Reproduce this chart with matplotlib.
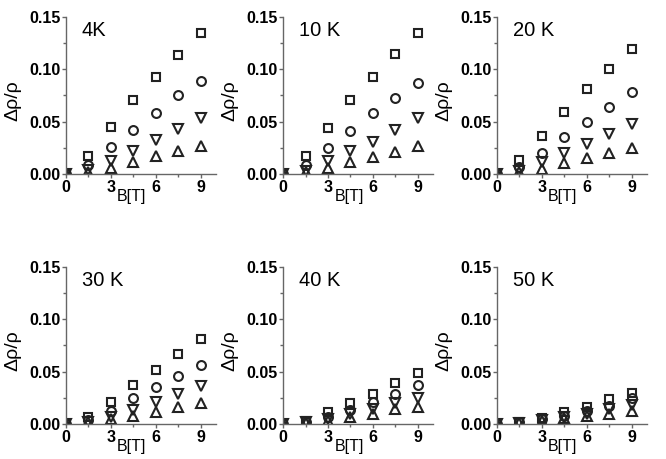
import matplotlib
matplotlib.use("Agg")
import matplotlib.pyplot as plt
from matplotlib.ticker import MultipleLocator, FormatStrFormatter

plt.rcParams['font.family'] = ['Liberation Sans', 'DejaVu Sans']

B = [0, 1.5, 3, 4.5, 6, 7.5, 9]
temps = ["4K", "10 K", "20 K", "30 K", "40 K", "50 K"]

sq = [
    [0, 0.0175, 0.045, 0.0705, 0.093, 0.114, 0.135],
    [0, 0.017, 0.044, 0.071, 0.093, 0.115, 0.135],
    [0, 0.013, 0.036, 0.059, 0.081, 0.100, 0.119],
    [0, 0.007, 0.021, 0.037, 0.052, 0.067, 0.081],
    [0, 0.003, 0.011, 0.020, 0.029, 0.039, 0.049],
    [0, 0.002, 0.006, 0.011, 0.0165, 0.024, 0.030],
]
ci = [
    [0, 0.009, 0.026, 0.042, 0.058, 0.075, 0.089],
    [0, 0.0086, 0.025, 0.041, 0.058, 0.073, 0.087],
    [0, 0.007, 0.0205, 0.035, 0.050, 0.064, 0.078],
    [0, 0.0035, 0.0127, 0.0245, 0.035, 0.046, 0.056],
    [0, 0.002, 0.007, 0.013, 0.0207, 0.029, 0.037],
    [0, 0.0015, 0.0048, 0.008, 0.0124, 0.0175, 0.0245],
]
dn = [
    [0, 0.004, 0.0127, 0.022, 0.032, 0.043, 0.053],
    [0, 0.003, 0.012, 0.022, 0.031, 0.042, 0.053],
    [0, 0.003, 0.011, 0.0196, 0.0285, 0.038, 0.048],
    [0, 0.002, 0.007, 0.013, 0.0207, 0.0286, 0.0365],
    [0, 0.0015, 0.0048, 0.0095, 0.014, 0.0197, 0.025],
    [0, 0.001, 0.0038, 0.007, 0.010, 0.014, 0.018],
]
up = [
    [0, 0.002, 0.006, 0.011, 0.0175, 0.022, 0.027],
    [0, 0.002, 0.006, 0.011, 0.0165, 0.021, 0.027],
    [0, 0.002, 0.005, 0.010, 0.015, 0.0196, 0.025],
    [0, 0.0015, 0.0045, 0.008, 0.011, 0.016, 0.0197],
    [0, 0.001, 0.003, 0.0064, 0.0095, 0.014, 0.0165],
    [0, 0.001, 0.003, 0.0054, 0.008, 0.010, 0.0124],
]

fig = plt.figure(figsize=(6.66, 4.59), dpi=100)
lefts = [0.099, 0.425, 0.746]
bottoms = [0.621, 0.0763]
w, h = 0.225, 0.342
mc = '#222222'
axc = '#666666'

for i, t in enumerate(temps):
    r, c = divmod(i, 3)
    ax = fig.add_axes([lefts[c], bottoms[r], w, h])
    ax.plot(B, sq[i], ls='none', marker='s', ms=6.0, mfc='none', mec=mc, mew=1.5)
    ax.plot(B, ci[i], ls='none', marker='o', ms=6.4, mfc='none', mec=mc, mew=1.5)
    ax.plot(B, dn[i], ls='none', marker='v', ms=7.4, mfc='none', mec=mc, mew=1.5)
    ax.plot(B, up[i], ls='none', marker='^', ms=7.4, mfc='none', mec=mc, mew=1.5)
    ax.set_xlim(0, 10)
    ax.set_ylim(0, 0.15)
    for s in ['top', 'right']:
        ax.spines[s].set_visible(False)
    for s in ['left', 'bottom']:
        ax.spines[s].set_color(axc)
        ax.spines[s].set_linewidth(1.0)
    ax.xaxis.set_major_locator(MultipleLocator(3))
    ax.xaxis.set_minor_locator(MultipleLocator(1.5))
    ax.yaxis.set_major_locator(MultipleLocator(0.05))
    ax.yaxis.set_minor_locator(MultipleLocator(0.025))
    ax.yaxis.set_major_formatter(FormatStrFormatter('%.2f'))
    ax.tick_params(which='major', length=3, width=1, color=axc, pad=1,
                   labelsize=11.5)
    ax.tick_params(which='minor', length=2, width=1, color=axc)
    for lab in ax.get_xticklabels() + ax.get_yticklabels():
        lab.set_fontweight('bold')
    ax.set_xlabel('B[T]', fontsize=11.5)
    ax.xaxis.set_label_coords(0.44, -0.095)
    ax.set_ylabel('Δρ/ρ', fontsize=14)
    ax.yaxis.set_label_coords(-0.30, 0.47)
    ax.text(0.105, 0.975, t, transform=ax.transAxes, fontsize=14.5, va='top', ha='left')

fig.savefig('out.png', dpi=100)
